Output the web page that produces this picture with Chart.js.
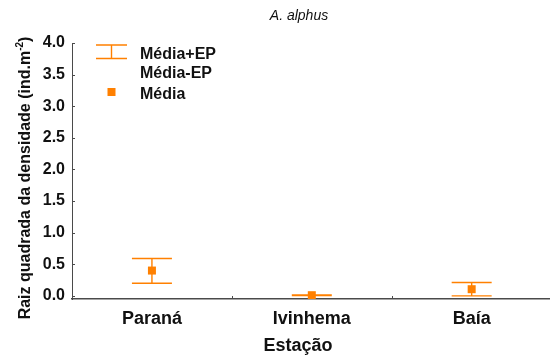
<!DOCTYPE html>
<html>
<head>
<meta charset="utf-8">
<script src="https://cdn.jsdelivr.net/npm/chart.js@4/dist/chart.umd.min.js"></script>
<style>
  html, body { margin: 0; padding: 0; background: #fff; }
  #wrap { width: 550px; height: 363px; position: relative; }
  canvas { display: block; }
</style>
</head>
<body>
<div id="wrap"><canvas id="c" width="550" height="363"></canvas></div>
<script>
// Sampling stations and square-root density of A. alphus
const categories = ['Paraná', 'Ivinhema', 'Baía'];
const media      = [0.40, 0.01, 0.105];
const mediaMaisEP  = [0.59, 0.015, 0.21];
const mediaMenosEP = [0.20, 0.005, 0.0];
const yTicks = [0.0, 0.5, 1.0, 1.5, 2.0, 2.5, 3.0, 3.5, 4.0];

const ORANGE = '#FF8000';
const INK = '#111111';
const AXIS = '#4a4a4a';
const FONT = '"Liberation Sans", Arial, Helvetica, sans-serif';

// Vertical SE whiskers with caps, drawn under the mean markers
const errorBars = {
  id: 'errorBars',
  beforeDatasetsDraw(chart) {
    const { ctx, scales: { x, y } } = chart;
    ctx.save();
    ctx.strokeStyle = ORANGE;
    ctx.lineWidth = 1.4;
    const half = 20;
    categories.forEach((_, i) => {
      const px = x.getPixelForValue(i);
      const top = y.getPixelForValue(mediaMaisEP[i]);
      const bot = y.getPixelForValue(mediaMenosEP[i]);
      ctx.beginPath();
      ctx.moveTo(px, top); ctx.lineTo(px, bot);
      ctx.moveTo(px - half, top); ctx.lineTo(px + half, top);
      ctx.moveTo(px - half, bot); ctx.lineTo(px + half, bot);
      ctx.stroke();
    });
    ctx.restore();
  }
};

// Inner tick marks, titles and the legend block
const decorations = {
  id: 'decorations',
  afterDraw(chart) {
    const { ctx, chartArea: a, scales: { x, y } } = chart;
    ctx.save();
    // inner tick marks
    ctx.strokeStyle = AXIS;
    ctx.lineWidth = 1;
    yTicks.forEach(v => {
      const py = Math.round(y.getPixelForValue(v)) + 0.5;
      ctx.beginPath(); ctx.moveTo(a.left, py); ctx.lineTo(a.left + 3, py); ctx.stroke();
    });
    [0.5, 1.5].forEach(v => {
      const px = Math.round(x.getPixelForValue(v)) + 0.5;
      ctx.beginPath(); ctx.moveTo(px, a.bottom); ctx.lineTo(px, a.bottom - 3); ctx.stroke();
    });

    // chart title
    ctx.fillStyle = INK;
    ctx.textAlign = 'center';
    ctx.textBaseline = 'alphabetic';
    ctx.font = 'italic 14px ' + FONT;
    ctx.fillText('A. alphus', 299, 20);

    // x axis title
    ctx.font = 'bold 18px ' + FONT;
    ctx.fillText('Estação', 298, 351);

    // y axis title with superscript
    ctx.save();
    ctx.translate(30, 178);
    ctx.rotate(-Math.PI / 2);
    const main = 'Raiz quadrada da densidade (ind.m';
    const sup = '-2';
    const close = ')';
    ctx.font = 'bold 16px ' + FONT;
    const wMain = ctx.measureText(main).width;
    const wClose = ctx.measureText(close).width;
    ctx.font = 'bold 10px ' + FONT;
    const wSup = ctx.measureText(sup).width;
    let sx = -(wMain + wSup + wClose) / 2;
    ctx.textAlign = 'left';
    ctx.font = 'bold 16px ' + FONT;
    ctx.fillText(main, sx, 0);
    sx += wMain;
    ctx.font = 'bold 10px ' + FONT;
    ctx.fillText(sup, sx, -7);
    sx += wSup;
    ctx.font = 'bold 16px ' + FONT;
    ctx.fillText(close, sx, 0);
    ctx.restore();

    // legend
    ctx.strokeStyle = ORANGE;
    ctx.lineWidth = 1.4;
    ctx.beginPath();
    ctx.moveTo(96, 45); ctx.lineTo(127, 45);
    ctx.moveTo(96, 58.5); ctx.lineTo(127, 58.5);
    ctx.moveTo(111.5, 45); ctx.lineTo(111.5, 58.5);
    ctx.stroke();
    ctx.fillStyle = ORANGE;
    ctx.fillRect(107.5, 88, 8, 8);
    ctx.fillStyle = INK;
    ctx.textAlign = 'left';
    ctx.font = 'bold 16px ' + FONT;
    ctx.fillText('Média+EP', 140, 58.5);
    ctx.fillText('Média-EP', 140, 78);
    ctx.fillText('Média', 140, 99);
    ctx.restore();
  }
};

new Chart(document.getElementById('c'), {
  type: 'scatter',
  data: {
    datasets: [{
      label: 'Média',
      data: categories.map((_, i) => ({ x: i, y: media[i] })),
      backgroundColor: ORANGE,
      borderWidth: 0,
      pointStyle: 'rect',
      pointRadius: 5.66,
      pointHoverRadius: 5.66
    }]
  },
  options: {
    responsive: false,
    animation: false,
    devicePixelRatio: 1,
    layout: { autoPadding: false, padding: { left: 0, right: 0, top: 43, bottom: 0 } },
    plugins: {
      legend: { display: false },
      title: { display: false },
      tooltip: { enabled: false }
    },
    scales: {
      x: {
        type: 'linear',
        min: -0.5,
        max: 2.49,
        afterBuildTicks(scale) { scale.ticks = categories.map((_, i) => ({ value: i })); },
        afterFit(scale) {
          scale.height = 64;
          scale.paddingLeft = 0;
          scale.paddingRight = 0;
        },
        grid: { drawOnChartArea: false, drawTicks: false },
        border: { display: true, color: AXIS, width: 1.5 },
        ticks: {
          padding: 9,
          color: INK,
          font: { family: FONT, size: 18, weight: 'bold' },
          callback: (v) => categories[v]
        }
      },
      y: {
        min: -0.05,
        max: 4.0,
        afterBuildTicks(scale) { scale.ticks = yTicks.map(v => ({ value: v })); },
        afterFit(scale) {
          scale.width = 72;
          scale.paddingTop = 0;
          scale.paddingBottom = 0;
        },
        grid: { drawOnChartArea: false, drawTicks: false },
        border: { display: true, color: AXIS, width: 1 },
        ticks: {
          padding: 7,
          color: INK,
          font: { family: FONT, size: 16, weight: 'bold' },
          callback: (v) => Number(v).toFixed(1)
        }
      }
    }
  },
  plugins: [errorBars, decorations]
});
</script>
</body>
</html>
